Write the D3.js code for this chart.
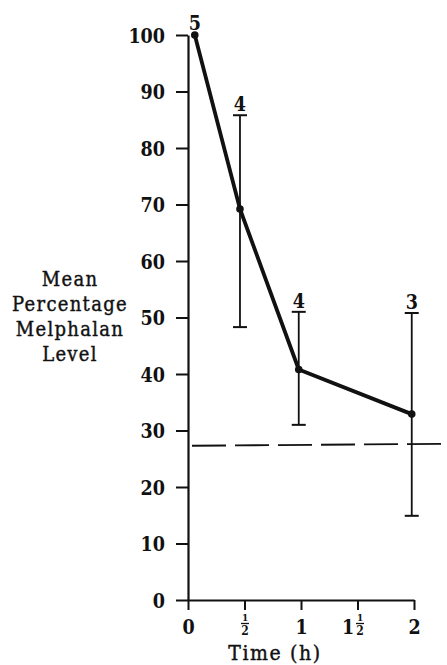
<!DOCTYPE html>
<html><head><meta charset="utf-8">
<script src="https://cdn.jsdelivr.net/npm/d3@7"></script>
<style>
body{margin:0;background:#fff;}
text{font-family:"DejaVu Serif Condensed","DejaVu Serif",serif;fill:#111;}
</style></head>
<body>
<svg id="c" width="447" height="665"></svg>
<script>
// ---- data ----
const times   = [0.06, 0.46, 0.98, 1.98];
const means   = [100, 69.2, 40.8, 32.9];
const upper   = [null, 85.8, 51.0, 50.8];
const lower   = [null, 48.3, 31.0, 14.9];
const nLabels = ["5", "4", "4", "3"];
const baseline = 27.3;
const yTicks  = [0,10,20,30,40,50,60,70,80,90,100];
const xTicks  = [0, 0.5, 1, 1.5, 2];
const xTickWhole = ["0", "", "1", "1", "2"];
const xTickHalf  = [false, true, false, true, false];
const yTitle  = ["Mean", "Percentage", "Melphalan", "Level"];
const xTitle  = "Time (h)";

const svg = d3.select("#c");
const x = d3.scaleLinear().domain([0, 2]).range([188, 414]);
const y = d3.scaleLinear().domain([0, 100]).range([600, 35]);
const ink = "#111";
const numFont = "19.5px";

// y axis
const ya = svg.append("g").attr("transform", `translate(${x(0)},0)`)
  .call(d3.axisLeft(y).tickValues(yTicks).tickSize(12).tickSizeOuter(0).tickPadding(11));
ya.select(".domain").attr("stroke", ink).attr("stroke-width", 2.2);
ya.selectAll(".tick line").attr("stroke", ink).attr("stroke-width", 2);
ya.selectAll(".tick text").style("font-size", numFont).style("font-weight", "bold")
  .attr("fill", ink).attr("dy", "0.36em");

// x axis
const xa = svg.append("g").attr("transform", `translate(0,${y(0)})`)
  .call(d3.axisBottom(x).tickValues(xTicks).tickSize(10).tickSizeOuter(0).tickFormat(() => ""));
xa.select(".domain").attr("stroke", ink).attr("stroke-width", 2.2);
xa.selectAll(".tick line").attr("stroke", ink).attr("stroke-width", 2);
xa.selectAll(".tick").each(function(d, i) {
  const g = d3.select(this);
  const whole = xTickWhole[i];
  let wx = 0;
  if (whole && xTickHalf[i]) wx = -10;
  if (whole) {
    g.append("text").attr("x", wx).attr("y", 34).attr("text-anchor", "middle")
      .style("font-size", numFont).style("font-weight", "bold").text(whole);
  }
  if (xTickHalf[i]) {
    const fx = whole ? 2 : 0;
    g.append("text").attr("x", fx).attr("y", 21).attr("text-anchor", "middle")
      .style("font-size", "10px").style("font-weight", "bold").text("1");
    g.append("line").attr("x1", fx - 4).attr("x2", fx + 4).attr("y1", 23.5).attr("y2", 23.5)
      .attr("stroke", ink).attr("stroke-width", 1.3);
    g.append("text").attr("x", fx).attr("y", 35).attr("text-anchor", "middle")
      .style("font-size", "12px").style("font-weight", "bold").text("2");
  }
});

// dashed reference line
svg.append("line").attr("x1", x(0) + 4).attr("x2", 447)
  .attr("y1", y(baseline)).attr("y2", y(baseline) - 2)
  .attr("stroke", ink).attr("stroke-width", 1.8).attr("stroke-dasharray", "34,9");

// error bars
times.forEach((t, i) => {
  if (upper[i] == null) return;
  const cx = x(t);
  svg.append("line").attr("x1", cx).attr("x2", cx).attr("y1", y(upper[i])).attr("y2", y(lower[i]))
    .attr("stroke", ink).attr("stroke-width", 1.8);
  [upper[i], lower[i]].forEach(v => {
    svg.append("line").attr("x1", cx - 7).attr("x2", cx + 7).attr("y1", y(v)).attr("y2", y(v))
      .attr("stroke", ink).attr("stroke-width", 2);
  });
});

// line
const pts = times.map((t, i) => [x(t), y(means[i])]);
svg.append("path").attr("d", d3.line()(pts)).attr("fill", "none")
  .attr("stroke", ink).attr("stroke-width", 3.8).attr("stroke-linejoin", "round");
svg.selectAll("circle.pt").data(pts).join("circle").attr("class", "pt")
  .attr("cx", d => d[0]).attr("cy", d => d[1]).attr("r", 3.8).attr("fill", ink);

// n labels
times.forEach((t, i) => {
  const top = upper[i] == null ? y(means[i]) - 5 : y(upper[i]) - 4;
  svg.append("text").attr("x", x(t)).attr("y", top).attr("text-anchor", "middle")
    .style("font-size", numFont).style("font-weight", "bold").text(nLabels[i]);
});

// y title
svg.append("g").selectAll("text").data(yTitle).join("text")
  .attr("x", 70).attr("y", (d, i) => 286 + i * 25).attr("text-anchor", "middle")
  .style("font-size", "20px").style("letter-spacing", "1.3px")
  .attr("stroke", ink).attr("stroke-width", 0.4).text(d => d);

// x title
svg.append("text").attr("x", 275).attr("y", 660).attr("text-anchor", "middle")
  .style("font-size", "21px").style("letter-spacing", "1.6px")
  .attr("stroke", ink).attr("stroke-width", 0.4).text(xTitle);
</script>
</body></html>
